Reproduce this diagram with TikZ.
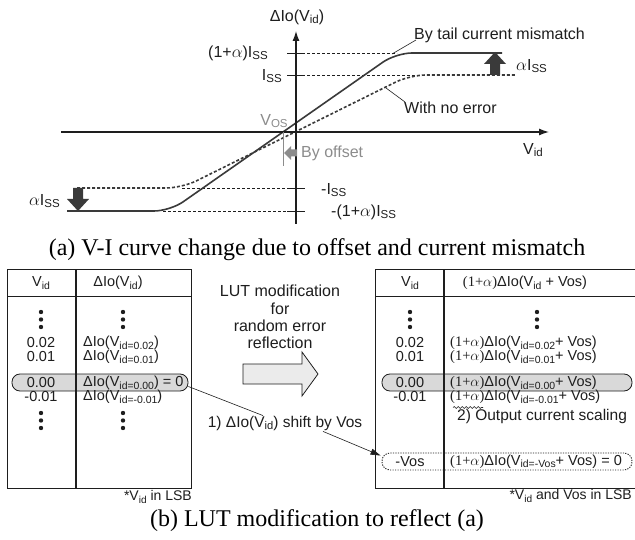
\documentclass[tikz,border=0pt]{standalone}
\usepackage{fontspec}
\setmainfont{Liberation Serif}
\setsansfont{Liberation Sans}
\usepackage{graphicx}
\usetikzlibrary{arrows.meta,decorations.pathmorphing}

\definecolor{ink}{HTML}{1E1E1E}
\definecolor{curve}{HTML}{3A3A3A}
\definecolor{offgray}{HTML}{8C8C8C}
\definecolor{hlfill}{HTML}{D9D9D9}
\definecolor{arrfill}{HTML}{EBEBEB}

% small lowered index text
\newcommand\sbs[1]{\raisebox{-0.3ex}{\scalebox{0.72}{#1}}}
\newcommand\Iss{I\sbs{SS}}
\newcommand\Vid{V\sbs{id}}
\newcommand\opa{{\rmfamily(1+$\alpha$)}}

\begin{document}
\begin{tikzpicture}[x=1pt,y=-1pt,
  lbl/.style={font=\sffamily\fontsize{16}{18}\selectfont, inner sep=0pt, text=ink},
  annot/.style={font=\sffamily\fontsize{15.5}{18}\selectfont, inner sep=0pt, text=ink},
  captxt/.style={font=\rmfamily\fontsize{24}{28}\selectfont, inner sep=0pt, text=black},
  cell/.style={font=\sffamily\fontsize{14.5}{16}\selectfont, inner sep=0pt, text=ink},
  lsbnote/.style={font=\sffamily\fontsize{14}{16}\selectfont, inner sep=0pt, text=ink},
  axisline/.style={line width=1.3pt, draw=ink, -{Latex[length=10pt,width=7pt]}},
  solidcurve/.style={line width=1.6pt, draw=curve, rounded corners=16pt},
  dashcurve/.style={line width=1.6pt, draw=curve, dash pattern=on 3pt off 2pt, rounded corners=16pt},
  refline/.style={line width=0.6pt, draw=ink, dash pattern=on 3pt off 2pt},
  tickline/.style={line width=0.8pt, draw=ink},
  leader/.style={line width=0.6pt, draw=ink},
  tblline/.style={line width=1pt, draw=ink},
  coldiv/.style={line width=1.7pt, draw=ink},
  hlbox/.style={draw=ink, line width=0.8pt, fill=hlfill, rounded corners=8pt, inner sep=0pt},
  dbox/.style={draw=ink, line width=0.9pt, dash pattern=on 1.2pt off 1.3pt, rounded corners=8pt, inner sep=0pt},
  lutdot/.style={circle, fill=ink, inner sep=0pt, minimum size=4.4pt}
]
\useasboundingbox (0,0) rectangle (635,540);
\fill[white] (0,0) rectangle (635,540);

% ---------------- V-I plot ----------------
\coordinate (xs) at (61,132);
\coordinate (xe) at (549,132);
\coordinate (ys) at (296,224);
\coordinate (ye) at (296,31);

% reference levels
\draw[refline] (287,53) -- (397,53);
\draw[refline] (287,75) -- (515,75);
\draw[refline] (182,188) -- (305,188);
\draw[refline] (163,211) -- (305,211);
\foreach \yy in {53,75,188,211} \draw[tickline] (287,\yy) -- (305,\yy);

% transfer curves
\draw[dashcurve] (77,188) -- (182,188) -- (410,75) -- (515,75);
\draw[solidcurve] (67,211) -- (170,211) -- (396,53) -- (502,53);

% axes
\draw[axisline] (xs) -- (xe);
\draw[axisline] (ys) -- (ye);

% current-mismatch arrows
\fill[curve] (490,75) -- (490,64) -- (484,64) -- (495,52) -- (506,64) -- (500,64) -- (500,75) -- cycle;
\fill[curve] (73,188) -- (73,199) -- (67,199) -- (78,211) -- (89,199) -- (83,199) -- (83,188) -- cycle;

% offset marker
\draw[offgray, line width=0.7pt] (283,132) -- (283,166);
\fill[offgray] (284,153) -- (291,146) -- (291,149.5) -- (297,149.5) -- (297,156.5) -- (291,156.5) -- (291,160) -- cycle;

% plot labels
\node[lbl] (ylab) at (297,17) {ΔIo(\Vid)};
\node[lbl] (xlab) at (533,150) {\Vid};
\node[lbl, anchor=east] (lvlA) at (268,53) {(1+$\alpha$)\Iss};
\node[lbl, anchor=east] (lvlB) at (282,76) {\Iss};
\node[lbl, anchor=west] (lvlC) at (321,190) {-\Iss};
\node[lbl, anchor=west] (lvlD) at (331,212) {-(1+$\alpha$)\Iss};
\node[lbl, anchor=west] (aup) at (516,66) {$\alpha$\Iss};
\node[lbl, anchor=east] (adn) at (60,201) {$\alpha$\Iss};
\node[lbl, text=offgray] (vos) at (274,121) {V\sbs{OS}};
\node[lbl, text=offgray, anchor=west] (byoff) at (301,153) {By offset};
\node[lbl, anchor=west] (tail) at (414,35) {By tail current mismatch};
\node[lbl, anchor=west] (noerr) at (404,108) {With no error};
\coordinate (tailend) at (392,54);
\coordinate (noerrend) at (386,88);
\draw[leader] ([xshift=2pt,yshift=-5pt]tail.west) -- (tailend);
\draw[leader] ([xshift=1pt,yshift=6pt]noerr.west) -- (noerrend);

\node[captxt] (capA) at (317,250) {(a) V-I curve change due to offset and current mismatch};

% ---------------- left LUT ----------------
\node[hlbox, minimum width=176pt, minimum height=17pt] (hlL) at (100,382.5) {};
\draw[tblline] (7,270) rectangle (191,488);
\draw[tblline] (7,297) -- (191,297);
\draw[coldiv] (76,270) -- (76,488);

\node[cell] (lh1) at (41,283) {\Vid};
\node[cell] (lh2) at (118,283) {ΔIo(\Vid)};
\foreach \cx in {41,123} {
  \node[lutdot] at (\cx,312) {};
  \node[lutdot] at (\cx,319.5) {};
  \node[lutdot] at (\cx,327) {};
  \node[lutdot] at (\cx,413) {};
  \node[lutdot] at (\cx,420.5) {};
  \node[lutdot] at (\cx,428) {};
}
\node[cell] (la1) at (41,343) {0.02};
\node[cell] (la2) at (41,357) {0.01};
\node[cell] (la3) at (41,383) {0.00};
\node[cell] (la4) at (41,397) {-0.01};
\node[cell, anchor=west] (lb1) at (83,343) {ΔIo(V\sbs{id=0.02})};
\node[cell, anchor=west] (lb2) at (83,357) {ΔIo(V\sbs{id=0.01})};
\node[cell, anchor=west] (lb3) at (83,383) {ΔIo(V\sbs{id=0.00}) = 0};
\node[cell, anchor=west] (lb4) at (83,397) {ΔIo(V\sbs{id=-0.01})};
\node[lsbnote, anchor=east] (lsbL) at (192,497) {*\Vid\ in LSB};

% ---------------- middle ----------------
\node[annot, align=center, font=\sffamily\fontsize{16}{17.3}\selectfont] (lut) at (280,317)
  {LUT modification\\for\\random error\\reflection};
\draw[draw=ink, line width=0.8pt, fill=arrfill]
  (243,364) -- (302,364) -- (302,352) -- (318,374) -- (302,396) -- (302,384) -- (243,384) -- cycle;

% ---------------- right LUT ----------------
\node[hlbox, minimum width=250pt, minimum height=17pt] (hlR) at (507,382.5) {};
\node[dbox, minimum width=250pt, minimum height=17pt] (dotR) at (507,461.5) {};
\draw[tblline] (636,270) -- (375,270) -- (375,488) -- (636,488);
\draw[tblline] (375,297) -- (636,297);
\draw[coldiv] (444,270) -- (444,488);

\node[cell] (rh1) at (410,283) {\Vid};
\node[cell] (rh2) at (525,283) {\opa ΔIo(\Vid\ + Vos)};
\foreach \cx in {410,537} {
  \node[lutdot] at (\cx,312) {};
  \node[lutdot] at (\cx,319.5) {};
  \node[lutdot] at (\cx,327) {};
}
\node[cell] (ra1) at (410,343) {0.02};
\node[cell] (ra2) at (410,357) {0.01};
\node[cell] (ra3) at (410,383) {0.00};
\node[cell] (ra4) at (410,397) {-0.01};
\node[cell] (ra5) at (410,461.5) {-Vos};
\node[cell, anchor=west] (rb1) at (450,343) {\opa ΔIo(V\sbs{id=0.02}+ Vos)};
\node[cell, anchor=west] (rb2) at (450,357) {\opa ΔIo(V\sbs{id=0.01}+ Vos)};
\node[cell, anchor=west] (rb3) at (450,383) {\opa ΔIo(V\sbs{id=0.00}+ Vos)};
\node[cell, anchor=west] (rb4) at (450,397) {\opa ΔIo(V\sbs{id=-0.01}+ Vos)};
\node[cell, anchor=west] (rb5) at (450,461.5) {\opa ΔIo(V\sbs{id=-Vos}+ Vos) = 0};
\draw[ink, line width=0.6pt, decorate, decoration={snake, amplitude=0.9pt, segment length=4pt}]
  (453,407.5) -- (483,407.5);
\node[annot, anchor=west] (scal) at (457,416) {2) Output current scaling};
\node[lsbnote, anchor=east] (lsbR) at (632,496) {*\Vid\ and Vos in LSB};

% ---------------- shift annotation ----------------
\node[annot] (shift) at (285,423) {1) ΔIo(\Vid) shift by Vos};
\draw[leader] ([yshift=-4pt]hlL.east) -- ([xshift=-22pt]shift.north);
\draw[leader, -{Triangle[length=10pt,width=6pt]}] ([xshift=38pt,yshift=-1pt]shift.south) -- ([xshift=-1pt,yshift=-3pt]dotR.north west);

\node[captxt] (capB) at (317,521) {(b) LUT modification to reflect (a)};
\end{tikzpicture}
\end{document}
